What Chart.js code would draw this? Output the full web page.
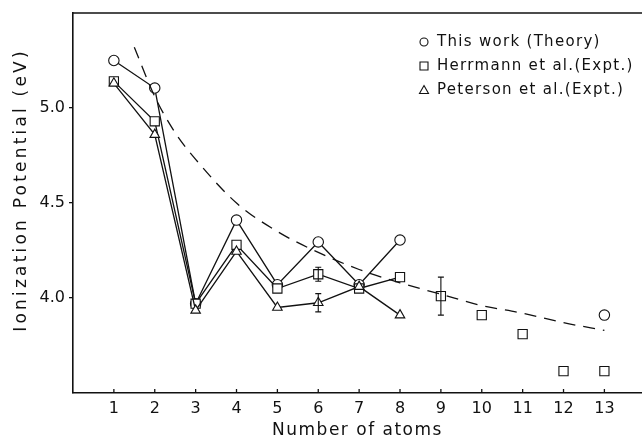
<!DOCTYPE html>
<html>
<head>
<meta charset="utf-8">
<script src="https://cdn.jsdelivr.net/npm/chart.js@4.4.1/dist/chart.umd.min.js"></script>
<style>
html,body{margin:0;padding:0;background:#fff;}
#c{display:block;}
</style>
</head>
<body>
<canvas id="c" width="642" height="440"></canvas>
<script>
// ---- data ----
const categories = [1, 2, 3, 4, 5, 6, 7, 8, 9, 10, 11, 12, 13];
const theory    = [5.25, 5.105, 3.97, 4.41, 4.07, 4.295, 4.07, 4.305, null, null, null, null, 3.91];
const herrmann  = [5.14, 4.93, 3.97, 4.28, 4.05, 4.125, 4.05, 4.11, 4.01, 3.91, 3.81, 3.615, 3.615];
const herrmannErr = [0, 0, 0, 0, 0, 0.037, 0, 0, 0.10, 0, 0, 0, 0];
const peterson  = [5.13, 4.86, 3.935, 4.245, 3.95, 3.975, 4.06, 3.91];
const petersonErr = [0, 0, 0, 0, 0, 0.048, 0, 0];
const curveX = [1.5, 2, 2.5, 3, 4, 5, 6, 7, 8, 9, 10, 11, 12, 13];
const curveY = [5.32, 5.06, 4.87, 4.73, 4.50, 4.35, 4.24, 4.15, 4.08, 4.02, 3.96, 3.92, 3.87, 3.83];
const yTicks = [4.0, 4.5, 5.0];
const xTicks = categories;
const legendLabels = ['This work (Theory)', 'Herrmann et al.(Expt.)', 'Peterson et al.(Expt.)'];
const xTitle = 'Number of atoms';
const yTitle = 'Ionization Potential (eV)';

const toPts = (arr) => arr.map((v, i) => ({x: categories[i], y: v}));

const FONT = "'DejaVu Sans', sans-serif";

const decor = {
  id: 'decor',
  afterDatasetsDraw(chart) {
    const ctx = chart.ctx;
    const xs = chart.scales.x, ys = chart.scales.y;
    ctx.save();
    ctx.strokeStyle = '#111';
    ctx.lineWidth = 1.1;
    const drawErr = (vals, errs) => {
      vals.forEach((v, i) => {
        const e = errs[i];
        if (!e || v == null) return;
        const px = xs.getPixelForValue(categories[i]);
        const yt = ys.getPixelForValue(v + e), yb = ys.getPixelForValue(v - e);
        ctx.beginPath();
        ctx.moveTo(px, yt); ctx.lineTo(px, yb);
        ctx.moveTo(px - 3, yt); ctx.lineTo(px + 3, yt);
        ctx.moveTo(px - 3, yb); ctx.lineTo(px + 3, yb);
        ctx.stroke();
      });
    };
    drawErr(herrmann, herrmannErr);
    drawErr(peterson, petersonErr);
    ctx.restore();
  },
  afterDraw(chart) {
    const ctx = chart.ctx;
    const xs = chart.scales.x;
    const a = chart.chartArea;
    ctx.save();
    ctx.strokeStyle = '#111';
    ctx.lineWidth = 1.6;
    ctx.beginPath();
    ctx.moveTo(a.left, a.top); ctx.lineTo(a.right, a.top);
    ctx.stroke();
    ctx.lineWidth = 1.3;
    xTicks.forEach(t => {
      const px = xs.getPixelForValue(t);
      ctx.beginPath();
      ctx.moveTo(px, a.bottom); ctx.lineTo(px, a.bottom - 4);
      ctx.stroke();
    });
    ctx.fillStyle = '#111';
    ctx.font = '17px ' + FONT;
    ctx.textAlign = 'center';
    ctx.textBaseline = 'middle';
    ctx.letterSpacing = '1.5px';
    ctx.fillText(xTitle, (a.left + a.right) / 2, 431);
    ctx.save();
    ctx.translate(22, 190);
    ctx.rotate(-Math.PI / 2);
    ctx.letterSpacing = '3.2px';
    ctx.fillText(yTitle, 0, 0);
    ctx.restore();
    ctx.font = '15px ' + FONT;
    ctx.letterSpacing = '1.3px';
    ctx.textAlign = 'left';
    const lx = 424, ly = [42, 66, 90];
    ctx.lineWidth = 1.1;
    legendLabels.forEach((lab, i) => {
      const y = ly[i];
      ctx.fillStyle = '#fff';
      ctx.beginPath();
      if (i === 0) ctx.arc(lx, y, 4, 0, Math.PI * 2);
      else if (i === 1) ctx.rect(lx - 4, y - 4, 8, 8);
      else { ctx.moveTo(lx, y - 4.5); ctx.lineTo(lx + 4.5, y + 3.5); ctx.lineTo(lx - 4.5, y + 3.5); ctx.closePath(); }
      ctx.fill();
      ctx.stroke();
      ctx.fillStyle = '#111';
      ctx.fillText(lab, lx + 13, y);
    });
    ctx.restore();
  }
};

const common = {
  borderColor: '#111',
  borderWidth: 1.3,
  pointBackgroundColor: '#fff',
  pointBorderColor: '#111',
  pointBorderWidth: 1.1,
  tension: 0,
  showLine: true,
  spanGaps: false,
  clip: false
};

new Chart(document.getElementById('c'), {
  type: 'scatter',
  data: {
    datasets: [
      Object.assign({}, common, {
        label: 'curve',
        data: curveX.map((x, i) => ({x, y: curveY[i]})),
        pointRadius: 0,
        borderDash: [12, 8],
        borderWidth: 1.3,
        tension: 0.4,
        cubicInterpolationMode: 'monotone'
      }),
      Object.assign({}, common, {
        label: legendLabels[2],
        data: toPts(peterson),
        pointStyle: 'triangle',
        pointRadius: 5.5
      }),
      Object.assign({}, common, {
        label: legendLabels[1],
        data: toPts(herrmann),
        pointStyle: 'rect',
        pointRadius: 6.5,
        segment: {
          borderColor: c => (c.p0.parsed.x >= 8 ? 'rgba(0,0,0,0)' : '#111')
        }
      }),
      Object.assign({}, common, {
        label: legendLabels[0],
        data: toPts(theory),
        pointStyle: 'circle',
        pointRadius: 5.2
      })
    ]
  },
  options: {
    responsive: false,
    animation: false,
    devicePixelRatio: 1,
    layout: { autoPadding: false, padding: { top: 13, right: 0, left: 0, bottom: 0 } },
    plugins: { legend: { display: false }, tooltip: { enabled: false } },
    elements: { point: { hitRadius: 0, hoverRadius: 0 } },
    scales: {
      x: {
        type: 'linear',
        min: 0, max: 13.92,
        afterBuildTicks: s => { s.ticks = xTicks.map(v => ({value: v})); },
        afterFit: s => { s.height = 47; s.paddingLeft = 0; s.paddingRight = 0; },
        grid: { display: true, drawOnChartArea: false, drawTicks: false, color: 'rgba(0,0,0,0)' },
        border: { display: true, color: '#111', width: 1.6 },
        ticks: { color: '#111', font: { family: FONT, size: 16 }, padding: 6, maxRotation: 0, autoSkip: false }
      },
      y: {
        type: 'linear',
        min: 3.5, max: 5.5,
        afterBuildTicks: s => { s.ticks = yTicks.map(v => ({value: v})); },
        afterFit: s => { s.width = 73; s.paddingTop = 0; s.paddingBottom = 0; },
        grid: { display: true, drawOnChartArea: false, drawTicks: true, tickLength: 4, color: '#111', lineWidth: 1.3 },
        border: { display: true, color: '#111', width: 1.6 },
        ticks: { color: '#111', font: { family: FONT, size: 16 }, padding: 4, callback: v => v.toFixed(1) }
      }
    }
  },
  plugins: [decor]
});
</script>
</body>
</html>
